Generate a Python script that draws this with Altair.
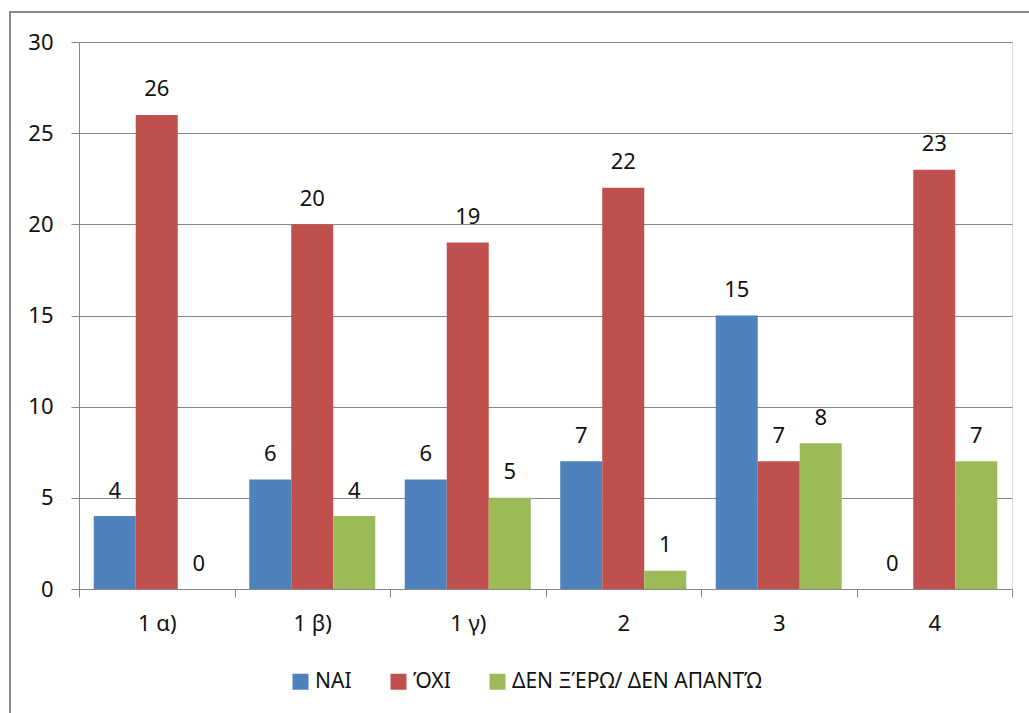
import altair as alt
import pandas as pd

categories = ["1 α)", "1 β)", "1 γ)", "2", "3", "4"]
series = ["ΝΑΙ", "ΌΧΙ", "ΔΕΝ ΞΈΡΩ/ ΔΕΝ ΑΠΑΝΤΏ"]
nai = [4, 6, 6, 7, 15, 0]
oxi = [26, 20, 19, 22, 7, 23]
den = [0, 4, 5, 1, 8, 7]
colors = ["#4F81BD", "#C0504D", "#9BBB59"]

rows = []
for i, c in enumerate(categories):
    for s, vals in zip(series, [nai, oxi, den]):
        rows.append({"cat": c, "series": s, "value": vals[i]})
df = pd.DataFrame(rows)

FONT = "Noto Sans"
FS = 22
TXT = "#111111"
GRID = "#878787"

base = alt.Chart(df).encode(
    x=alt.X("cat:N", sort=categories,
            scale=alt.Scale(paddingInner=0, paddingOuter=0),
            axis=alt.Axis(title=None, labelAngle=0, tickBand="extent", tickSize=8,
                          domainColor=GRID, tickColor=GRID, labelFontSize=FS,
                          labelFont=FONT, labelColor=TXT, labelPadding=16,
                          grid=False)),
    xOffset=alt.XOffset("series:N", sort=series,
                        scale=alt.Scale(paddingInner=0, paddingOuter=0.351)),
)

bars = base.mark_bar().encode(
    y=alt.Y("value:Q", scale=alt.Scale(domain=[0, 30], nice=False),
            axis=alt.Axis(title=None, values=[0, 5, 10, 15, 20, 25, 30], tickSize=8,
                          domainColor=GRID, tickColor=GRID, gridColor=GRID,
                          labelFontSize=FS, labelFont=FONT, labelColor=TXT,
                          labelPadding=18)),
    color=alt.Color("series:N", sort=series,
                    scale=alt.Scale(domain=series, range=colors),
                    legend=alt.Legend(title=None, orient="none", legendX=211, legendY=629,
                                      direction="horizontal", symbolType="square",
                                      symbolSize=256, symbolStrokeWidth=0,
                                      labelFontSize=21, labelFont=FONT, labelLimit=500,
                                      labelColor=TXT, columnPadding=36,
                                      labelOffset=4)),
)

labels = base.mark_text(baseline="alphabetic", dy=-18.5, fontSize=FS, font=FONT,
                        color=TXT).encode(
    y=alt.Y("value:Q"),
    text=alt.Text("value:Q"),
)

frame = alt.Chart(pd.DataFrame({"a": [0]})).mark_rect(
    fillOpacity=0, stroke="#8a8a8a", strokeWidth=2
).encode(x=alt.value(-69), x2=alt.value(960), y=alt.value(-30), y2=alt.value(700))

chart = alt.layer(frame, bars, labels).properties(
    width=933, height=547,
    padding={"left": 79, "top": 42, "right": 17, "bottom": 124},
    autosize=alt.AutoSizeParams(type="none"),
).configure_view(stroke=None).configure(background="white")

chart.save("out.html", embed_options={"renderer": "svg", "actions": False})
